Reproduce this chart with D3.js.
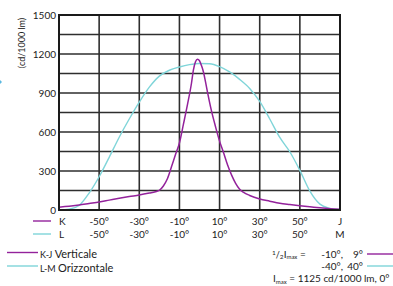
<!DOCTYPE html>
<html><head><meta charset="utf-8">
<script src="https://cdn.jsdelivr.net/npm/d3@7"></script>
<style>
html,body{margin:0;padding:0;background:#fff;}
svg{display:block;font-family:Lato,"Open Sans",sans-serif;}
</style></head>
<body>
<svg id="c" width="393" height="286"></svg>
<script>
const kjAngles = [-70,-65,-60,-55,-50,-45,-40,-35,-30,-25,-22,-20,-18,-16,-14,-12,-10,-8,-6,-4,-3,-2,-1,0,1,2,3,4,5,6,8,10,12,14,16,18,20,22,25,30,35,40,45,50,55,60,65,70];
const kjValues = [22,28,38,50,62,76,90,103,115,130,140,152,185,240,330,425,515,660,810,975,1080,1140,1160,1148,1110,1060,985,905,830,760,640,530,440,346,268,205,160,135,112,85,68,52,42,33,25,17,10,5];
const lmAngles = [-70,-65,-60,-55,-50,-45,-40,-35,-30,-25,-20,-15,-10,-5,0,5,10,15,20,25,30,35,40,45,50,55,60,65,70];
const lmValues = [0,6,35,130,256,405,560,700,830,945,1030,1075,1100,1118,1127,1125,1103,1062,1005,935,835,700,558,448,305,145,45,13,2];
const yTicks = [0,300,600,900,1200,1500];
const xTickLabels = ["-50°","-30°","-10°","10°","30°","50°"];
const xTickAngles = [-50,-30,-10,10,30,50];

const svg = d3.select("#c");
const x = d3.scaleLinear().domain([-70,70]).range([59,340]);
const y = d3.scaleLinear().domain([0,1500]).range([210,15]);
const magenta = "#93229b", cyan = "#7fd5d9", grid = "#2e2e2e";

// grid
const gGrid = svg.append("g");
gGrid.selectAll("line.h").data(d3.range(150,1500,150)).join("line")
  .attr("x1",x(-70)).attr("x2",x(70)).attr("y1",d=>y(d)).attr("y2",d=>y(d))
  .attr("stroke",grid).attr("stroke-width",1.4);
gGrid.selectAll("line.v").data(d3.range(-50,70,20)).join("line")
  .attr("y1",y(0)).attr("y2",y(1500)).attr("x1",d=>x(d)).attr("x2",d=>x(d))
  .attr("stroke",grid).attr("stroke-width",1.6);

// curves
const line = d3.line().x(d=>x(d[0])).y(d=>y(d[1])).curve(d3.curveMonotoneX);
svg.append("path").datum(lmAngles.map((a,i)=>[a,lmValues[i]]))
  .attr("d",line).attr("fill","none").attr("stroke",cyan).attr("stroke-width",1.4);
svg.append("path").datum(kjAngles.map((a,i)=>[a,kjValues[i]]))
  .attr("d",line).attr("fill","none").attr("stroke",magenta).attr("stroke-width",1.5);

// frame
svg.append("rect").attr("x",x(-70)).attr("y",y(1500)).attr("width",x(70)-x(-70)).attr("height",y(0)-y(1500))
  .attr("fill","none").attr("stroke","#1a1a1a").attr("stroke-width",2);

// y axis labels
svg.append("g").selectAll("text").data(yTicks).join("text")
  .attr("x",56).attr("y",d=>y(d)).attr("dy","0.35em").attr("text-anchor","end")
  .attr("font-size",10).attr("fill","#222").text(d=>d);
svg.append("text").attr("transform","translate(22,43) rotate(-90)")
  .attr("text-anchor","middle").attr("dy","0.35em").attr("font-size",9).attr("fill","#222").text("(cd/1000 lm)");

// small mark at left edge
svg.append("path").attr("d","M0,80 L2,82 L0,84 Z").attr("fill","#5ab8e0");

// x labels rows
const rows = [{y:221,left:"K",right:"J",color:magenta},{y:234,left:"L",right:"M",color:cyan}];
rows.forEach(r=>{
  svg.append("line").attr("x1",33).attr("x2",51).attr("y1",r.y).attr("y2",r.y).attr("stroke",r.color).attr("stroke-width",1.4);
  svg.append("text").attr("x",59).attr("y",r.y).attr("dy","0.35em").attr("font-size",10).attr("fill","#222").text(r.left);
  svg.append("g").selectAll("text").data(xTickAngles).join("text")
    .attr("x",d=>x(d)).attr("y",r.y).attr("dy","0.35em").attr("text-anchor","middle")
    .attr("font-size",10).attr("fill","#222").text((d,i)=>xTickLabels[i]);
  svg.append("text").attr("x",x(70)).attr("y",r.y).attr("dy","0.35em").attr("text-anchor","middle").attr("font-size",10).attr("fill","#222").text(r.right);
});

// bottom-left legend
const leg = [{y:252.5,code:"K-J",name:"Verticale",color:magenta},{y:266,code:"L-M",name:"Orizzontale",color:cyan}];
leg.forEach(l=>{
  svg.append("line").attr("x1",7).attr("x2",38).attr("y1",l.y).attr("y2",l.y).attr("stroke",l.color).attr("stroke-width",1.4);
  const t = svg.append("text").attr("x",40).attr("y",l.y).attr("dy","0.35em").attr("fill","#222");
  t.append("tspan").attr("font-size",9).text(l.code+" ");
  t.append("tspan").attr("font-size",11).text(l.name);
});

// bottom-right annotation
const ann = svg.append("g").attr("fill","#222").attr("font-size",10);
const t1 = ann.append("text").attr("x",272).attr("y",257.5);
t1.append("tspan").attr("font-size",6.5).attr("dy","-3").text("1");
t1.append("tspan").attr("font-size",9).attr("dy","3").text("/");
t1.append("tspan").attr("font-size",6.5).attr("dy","1.5").text("2");
t1.append("tspan").attr("dy","-1.5").text("I");
t1.append("tspan").attr("font-size",6).attr("dy","1.5").text("max");
t1.append("tspan").attr("dy","-1.5").text(" =");
ann.append("text").attr("x",343).attr("y",254).attr("dy","0.35em").attr("text-anchor","end").text("-10°,");
ann.append("text").attr("x",363).attr("y",254).attr("dy","0.35em").attr("text-anchor","end").text("9°");
ann.append("text").attr("x",343).attr("y",266).attr("dy","0.35em").attr("text-anchor","end").text("-40°,");
ann.append("text").attr("x",363).attr("y",266).attr("dy","0.35em").attr("text-anchor","end").text("40°");
svg.append("line").attr("x1",367).attr("x2",393).attr("y1",254).attr("y2",254).attr("stroke",magenta).attr("stroke-width",1.4);
svg.append("line").attr("x1",367).attr("x2",393).attr("y1",266).attr("y2",266).attr("stroke",cyan).attr("stroke-width",1.4);
const t3 = ann.append("text").attr("x",273).attr("y",282);
t3.append("tspan").text("I");
t3.append("tspan").attr("font-size",6).attr("dy","1.5").text("max");
t3.append("tspan").attr("dy","-1.5").text("  = 1125 cd/1000 lm, 0°");
</script>
</body></html>
